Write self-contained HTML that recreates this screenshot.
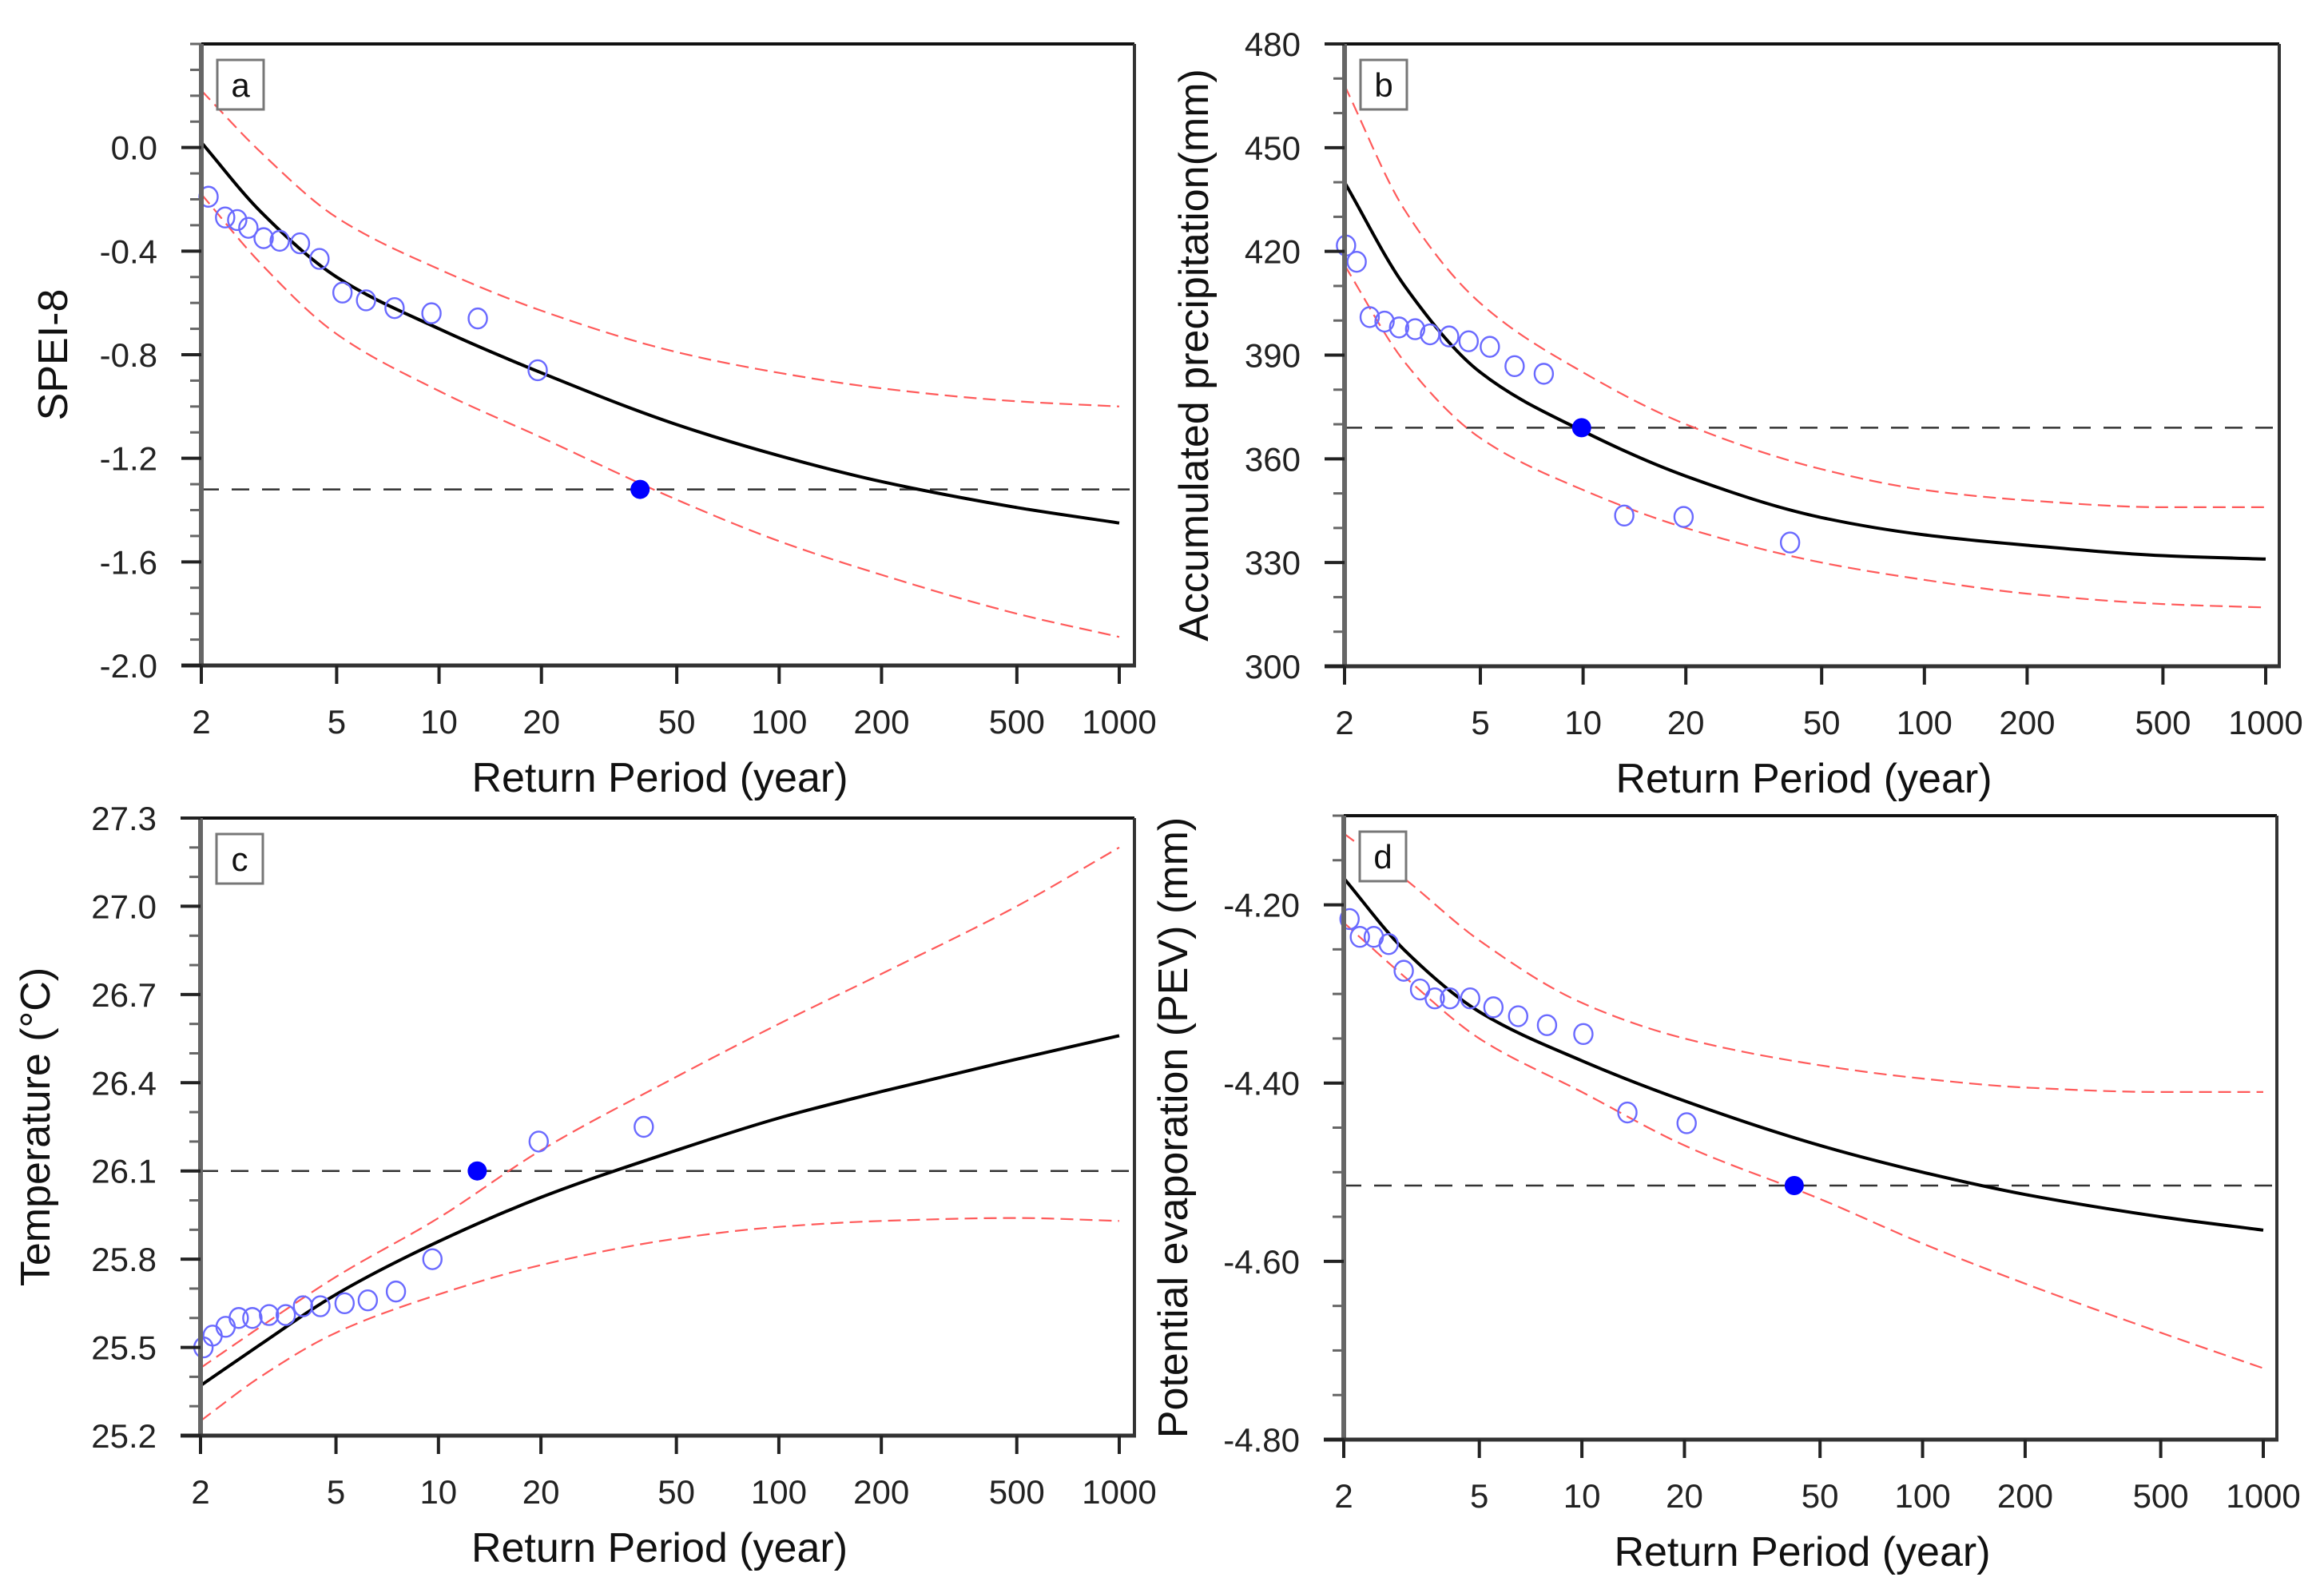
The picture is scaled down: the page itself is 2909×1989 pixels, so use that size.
<!DOCTYPE html>
<html><head><meta charset="utf-8"><title>Return period plots</title>
<style>
html,body{margin:0;padding:0;background:#fff;}
svg{display:block;font-family:"Liberation Sans",Arial,sans-serif;}
</style></head>
<body>
<svg id="fig" width="2909" height="1989" viewBox="0 0 2909 1989" xmlns="http://www.w3.org/2000/svg"></svg>
<script>
// ---- shared x data ----
const xTicks = [2,5,10,20,50,100,200,500,1000];
const xTickLabels = ["2","5","10","20","50","100","200","500","1000"];
const curveT = [2,3,5,10,20,50,100,200,500,1000];

// ---- panel a (SPEI-8) ----
const aFit   = [0.02,-0.25,-0.50,-0.70,-0.87,-1.07,-1.19,-1.29,-1.39,-1.45];
const aUpper = [0.22,-0.02,-0.27,-0.47,-0.63,-0.79,-0.87,-0.93,-0.98,-1.00];
const aLower = [-0.18,-0.45,-0.72,-0.94,-1.12,-1.36,-1.52,-1.65,-1.80,-1.89];
const aObsT  = [2.1,2.35,2.55,2.75,3.05,3.4,3.9,4.45,5.2,6.1,7.4,9.5,13,19.5];
const aObsV  = [-0.19,-0.27,-0.28,-0.31,-0.35,-0.36,-0.37,-0.43,-0.56,-0.59,-0.62,-0.64,-0.66,-0.86];
const aEventT = [39], aEventV = [-1.32];
const aTickVals = [0.0,-0.4,-0.8,-1.2,-1.6,-2.0];
const aTickLabels = ["0.0","-0.4","-0.8","-1.2","-1.6","-2.0"];

// ---- panel b (precipitation) ----
const bFit   = [440,410,385,368,355,343,338,335,332,331];
const bUpper = [468,432,405,385,370,357,351,348,346,346];
const bLower = [416,388,366,351,340,330,325,321,318,317];
const bObsT  = [2.02,2.17,2.37,2.62,2.89,3.22,3.56,4.05,4.62,5.33,6.3,7.67,13.2,19.7,40.4];
const bObsV  = [421.7,417,401,399.7,398,397.5,396,395.4,394,392.4,386.8,384.6,343.6,343.2,335.8];
const bEventT = [9.9], bEventV = [369];
const bTickVals = [300,330,360,390,420,450,480];
const bTickLabels = ["300","330","360","390","420","450","480"];

// ---- panel c (temperature) ----
const cFit   = [25.37,25.51,25.68,25.86,26.01,26.17,26.28,26.37,26.48,26.56];
const cUpper = [25.43,25.57,25.74,25.94,26.17,26.42,26.60,26.77,27.00,27.20];
const cLower = [25.25,25.40,25.55,25.68,25.78,25.87,25.91,25.93,25.94,25.93];
const cObsT  = [2.04,2.17,2.37,2.59,2.84,3.18,3.56,4.0,4.5,5.3,6.2,7.5,9.6,19.7,40.1];
const cObsV  = [25.50,25.54,25.57,25.60,25.60,25.61,25.61,25.64,25.64,25.65,25.66,25.69,25.80,26.20,26.25];
const cEventT = [13.0], cEventV = [26.1];
const cTickVals = [25.2,25.5,25.8,26.1,26.4,26.7,27.0,27.3];
const cTickLabels = ["25.2","25.5","25.8","26.1","26.4","26.7","27.0","27.3"];

// ---- panel d (PEV) ----
const dFit   = [-4.17,-4.25,-4.32,-4.375,-4.42,-4.47,-4.50,-4.525,-4.55,-4.565];
const dUpper = [-4.12,-4.17,-4.24,-4.31,-4.35,-4.38,-4.395,-4.405,-4.41,-4.41];
const dLower = [-4.22,-4.28,-4.35,-4.41,-4.47,-4.53,-4.58,-4.625,-4.68,-4.72];
const dObsT  = [2.08,2.23,2.45,2.71,3.0,3.35,3.7,4.1,4.7,5.5,6.5,7.9,10.1,13.6,20.3];
const dObsV  = [-4.216,-4.236,-4.236,-4.244,-4.274,-4.295,-4.305,-4.305,-4.305,-4.315,-4.325,-4.335,-4.345,-4.433,-4.445];
const dEventT = [42], dEventV = [-4.515];
const dTickVals = [-4.8,-4.6,-4.4,-4.2];
const dTickLabels = ["-4.80","-4.60","-4.40","-4.20"];

const NS = "http://www.w3.org/2000/svg";
const svg = document.getElementById("fig");
function mk(tag, attrs, parent){
  const e = document.createElementNS(NS, tag);
  for (const k in attrs) e.setAttribute(k, attrs[k]);
  (parent||svg).appendChild(e);
  return e;
}

// monotone cubic (Fritsch-Carlson) path through points
function monoPath(pts){
  const n = pts.length, dx=[], dy=[], m=[], t=[];
  for (let i=0;i<n-1;i++){ dx[i]=pts[i+1][0]-pts[i][0]; dy[i]=pts[i+1][1]-pts[i][1]; m[i]=dy[i]/dx[i]; }
  t[0]=m[0]; t[n-1]=m[n-2];
  for (let i=1;i<n-1;i++){
    if (m[i-1]*m[i] <= 0) t[i]=0;
    else t[i] = 3*(dx[i-1]+dx[i]) / ((2*dx[i]+dx[i-1])/m[i-1] + (dx[i]+2*dx[i-1])/m[i]);
  }
  let d = "M" + pts[0][0].toFixed(1) + "," + pts[0][1].toFixed(1);
  for (let i=0;i<n-1;i++){
    const h = dx[i]/3;
    d += " C" + (pts[i][0]+h).toFixed(1) + "," + (pts[i][1]+t[i]*h).toFixed(1) + " " +
         (pts[i+1][0]-h).toFixed(1) + "," + (pts[i+1][1]-t[i+1]*h).toFixed(1) + " " +
         pts[i+1][0].toFixed(1) + "," + pts[i+1][1].toFixed(1);
  }
  return d;
}

function panel(cfg){
  const g = mk("g", {});
  
  
  const L = cfg.left, R = cfg.right, T = cfg.top, B = cfg.bottom, X1000 = cfg.x1000;
  const xs = t => L + (Math.log10(t) - Math.log10(2)) / (Math.log10(1000) - Math.log10(2)) * (X1000 - L);
  const ys = v => B - (v - cfg.ymin) / (cfg.ymax - cfg.ymin) * (B - T);
  const clip = mk("clipPath", {id: "clip" + cfg.id}, g);
  mk("rect", {x: L, y: T, width: R - L, height: B - T}, clip);

  function curve(vals, stroke, width, dash, name){
    const pts = curveT.map((t,i)=>[xs(t), ys(vals[i])]);
    const p = mk("path", {d: monoPath(pts), fill: "none", stroke: stroke, "stroke-width": width, "clip-path": "url(#clip" + cfg.id + ")"}, g);
    if (dash) p.setAttribute("stroke-dasharray", dash);
    
    
  }
  const hl = mk("line", {x1: L, x2: R, y1: ys(cfg.eventV[0]), y2: ys(cfg.eventV[0]), stroke: "#333", "stroke-width": 2.5, "stroke-dasharray": "22,16"}, g);
  
  

  curve(cfg.upper, "#ff5a5a", 2.2, "16,8", "upper-confidence-bound");
  curve(cfg.lower, "#ff5a5a", 2.2, "16,8", "lower-confidence-bound");
  curve(cfg.fit, "#000", 4, null, "fitted-curve");

  cfg.obsT.forEach((t,i)=>{
    const c = mk("ellipse", {cx: xs(t), cy: ys(cfg.obsV[i]), rx: 11.5, ry: 12.5, fill: "none", stroke: "#6a6aff", "stroke-width": 2.4}, g);
    
    
  });
  cfg.eventT.forEach((t,i)=>{
    const c = mk("circle", {cx: xs(t), cy: ys(cfg.eventV[i]), r: 12, fill: "#0000ff"}, g);
    
    
  });

  mk("line", {x1: L, x2: R, y1: T, y2: T, stroke: "#111", "stroke-width": 4}, g);
  mk("line", {x1: R, x2: R, y1: T, y2: B, stroke: "#333", "stroke-width": 4}, g);
  const yax = mk("line", {x1: L, x2: L, y1: T, y2: B + 2, stroke: "#666", "stroke-width": 6}, g);
  
  
  const xax = mk("line", {x1: L - 25, x2: R + 2, y1: B, y2: B, stroke: "#333", "stroke-width": 5}, g);
  
  

  for (let v = cfg.ymin; v <= cfg.ymax + 1e-9; v += cfg.minor){
    mk("line", {x1: L - 14, x2: L, y1: ys(v), y2: ys(v), stroke: "#666", "stroke-width": 3}, g);
  }
  cfg.tickVals.forEach((v,i)=>{
    mk("line", {x1: L - 25, x2: L, y1: ys(v), y2: ys(v), stroke: "#222", "stroke-width": 4}, g);
    const tx = mk("text", {x: L - 55, y: ys(v) + 15, "text-anchor": "end", "font-size": 42, fill: "#222"}, g);
    tx.textContent = cfg.tickLabels[i];
    
    
  });
  xTicks.forEach((t,i)=>{
    mk("line", {x1: xs(t), x2: xs(t), y1: B, y2: B + 23, stroke: "#222", "stroke-width": 4}, g);
    const tx = mk("text", {x: xs(t), y: B + 85, "text-anchor": "middle", "font-size": 42, fill: "#222"}, g);
    tx.textContent = xTickLabels[i];
    
    
  });
  const xt = mk("text", {x: (L + R) / 2 - 10, y: B + 158, "text-anchor": "middle", "font-size": 52, fill: "#111"}, g);
  xt.textContent = "Return Period (year)";
  
  
  const yt = mk("text", {x: 0, y: 0, "text-anchor": "middle", "font-size": 52, fill: "#111", transform: "translate(" + cfg.ytx + "," + ((T + B) / 2) + ") rotate(-90)"}, g);
  yt.textContent = cfg.ytitle;
  
  

  const box = mk("rect", {x: L + 20, y: T + 20, width: 58, height: 62, fill: "#fff", stroke: "#777", "stroke-width": 3}, g);
  
  
  const lab = mk("text", {x: L + 49, y: T + 66, "text-anchor": "middle", "font-size": 42, fill: "#111"}, g);
  lab.textContent = cfg.id;
  
  
}

panel({id:"a", left:252, right:1420, x1000:1401, top:55, bottom:833, ymin:-2.0, ymax:0.4, minor:0.1,
  fit:aFit, upper:aUpper, lower:aLower, obsT:aObsT, obsV:aObsV, eventT:aEventT, eventV:aEventV,
  tickVals:aTickVals, tickLabels:aTickLabels, ytitle:"SPEI-8", ytx:84});
panel({id:"b", left:1683, right:2853, x1000:2836, top:55, bottom:834, ymin:300, ymax:480, minor:10,
  fit:bFit, upper:bUpper, lower:bLower, obsT:bObsT, obsV:bObsV, eventT:bEventT, eventV:bEventV,
  tickVals:bTickVals, tickLabels:bTickLabels, ytitle:"Accumulated precipitation(mm)", ytx:1512});
panel({id:"c", left:251, right:1420, x1000:1401, top:1024, bottom:1797, ymin:25.2, ymax:27.3, minor:0.1,
  fit:cFit, upper:cUpper, lower:cLower, obsT:cObsT, obsV:cObsV, eventT:cEventT, eventV:cEventV,
  tickVals:cTickVals, tickLabels:cTickLabels, ytitle:"Temperature (\u00B0C)", ytx:62});
panel({id:"d", left:1682, right:2850, x1000:2833, top:1021, bottom:1802, ymin:-4.8, ymax:-4.1, minor:0.05,
  fit:dFit, upper:dUpper, lower:dLower, obsT:dObsT, obsV:dObsV, eventT:dEventT, eventV:dEventV,
  tickVals:dTickVals, tickLabels:dTickLabels, ytitle:"Potential evaporation (PEV) (mm)", ytx:1486});
</script>
</body></html>
